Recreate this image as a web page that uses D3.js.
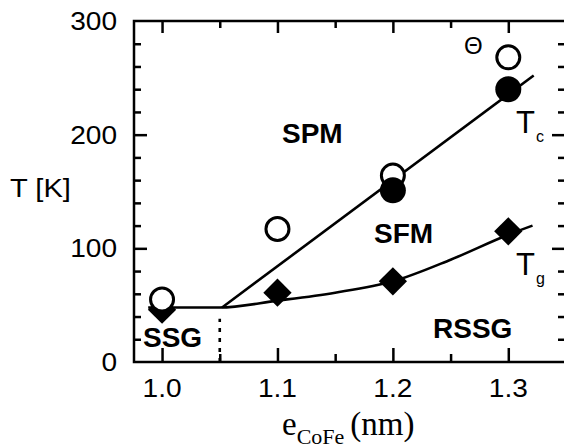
<!DOCTYPE html>
<html>
<head>
<meta charset="utf-8">
<script src="https://cdn.jsdelivr.net/npm/d3@7"></script>
<style>
  html, body { margin: 0; padding: 0; background: #fff; }
  svg { display: block; }
  text { font-family: "Liberation Sans", Arial, Helvetica, sans-serif; fill: #000; }
</style>
</head>
<body>
<svg id="chart" width="564" height="448"></svg>
<script>
// Thickness of the CoFe layer (nm)
const thickness = [1.0, 1.1, 1.2, 1.3];
// Curie-Weiss temperature Θ (open circles)
const thetaK = [55, 117, 164, 268];
// Ordering temperature Tc (filled circles), measured at 1.2 and 1.3 nm
const tcThickness = [1.2, 1.3];
const tcK = [151, 240];
// Glass temperature Tg (diamonds)
const tgK = [46, 61, 71, 115];

// Guide lines separating the phases
const tcLineX = [1.052, 1.322];
const tcLineY = [48, 252];
const tgLineX = [0.988, 1.05, 1.1, 1.15, 1.2, 1.25, 1.3, 1.321];
const tgLineY = [48, 48, 54, 61, 71, 90, 112, 120];
const boundaryX = 1.05;
const boundaryY = [0, 38];

// Axis ticks
const xMajor = [1.0, 1.1, 1.2, 1.3];
const xMinor = [1.05, 1.15, 1.25];
const yMajor = [0, 100, 200, 300];
const yMinor = [20, 40, 60, 80, 120, 140, 160, 180, 220, 240, 260, 280];

const svg = d3.select("#chart");
const plotL = 134, plotR = 566, plotT = 21, plotB = 362;

const x = d3.scaleLinear().domain([0.9757, 1.35]).range([plotL, plotR]);
const y = d3.scaleLinear().domain([0, 300]).range([plotB, plotT]);

const ink = "#000";

// Frame
svg.append("rect")
  .attr("x", plotL).attr("y", plotT)
  .attr("width", plotR - plotL).attr("height", plotB - plotT)
  .attr("fill", "none").attr("stroke", ink).attr("stroke-width", 2.5);

// Inward ticks on all four sides
function ticks(axisGen, transform, values, size) {
  const g = svg.append("g").attr("transform", transform)
    .call(axisGen.tickValues(values).tickSize(-size).tickFormat(""));
  g.select(".domain").remove();
  g.selectAll(".tick line").attr("stroke", ink).attr("stroke-width", 2.5);
}
ticks(d3.axisBottom(x), `translate(0,${plotB})`, xMajor, 14);
ticks(d3.axisBottom(x), `translate(0,${plotB})`, xMinor, 8);
ticks(d3.axisTop(x), `translate(0,${plotT})`, xMajor, 12);
ticks(d3.axisTop(x), `translate(0,${plotT})`, xMinor, 7);
ticks(d3.axisLeft(y), `translate(${plotL},0)`, yMajor.slice(1, 3), 13);
ticks(d3.axisLeft(y), `translate(${plotL},0)`, yMinor, 7);
ticks(d3.axisRight(y), `translate(${plotR},0)`, yMajor.slice(1, 3), 14);
ticks(d3.axisRight(y), `translate(${plotR},0)`, yMinor, 8);

// Tick labels
svg.append("g").selectAll("text").data(xMajor).join("text")
  .attr("transform", d => `translate(${x(d)},397) scale(1.08,1)`)
  .attr("text-anchor", "middle")
  .attr("font-size", 26)
  .text(d => d.toFixed(1));

svg.append("g").selectAll("text").data(yMajor).join("text")
  .attr("transform", d => `translate(117,${y(d) + 9}) scale(1.08,1)`)
  .attr("text-anchor", "end")
  .attr("font-size", 26)
  .text(d => d);

// Axis titles
svg.append("text")
  .attr("transform", "translate(10,197) scale(1.12,1)")
  .attr("font-size", 26)
  .text("T [K]");

const xt = svg.append("text")
  .attr("x", 282).attr("y", 435)
  .style("font-family", "'Liberation Serif', 'Times New Roman', serif")
  .attr("font-size", 33);
xt.append("tspan").text("e");
xt.append("tspan").attr("font-size", 22).attr("dy", 9).text("CoFe");
xt.append("tspan").attr("dy", -9).attr("dx", 6).text("(nm)");

// Phase boundaries
const line = d3.line().x(d => x(d[0])).y(d => y(d[1]));
const curve = d3.line().x(d => x(d[0])).y(d => y(d[1])).curve(d3.curveMonotoneX);

svg.append("path")
  .attr("d", line(d3.zip(tcLineX, tcLineY)))
  .attr("fill", "none").attr("stroke", ink).attr("stroke-width", 2.6);

svg.append("path")
  .attr("d", curve(d3.zip(tgLineX, tgLineY)))
  .attr("fill", "none").attr("stroke", ink).attr("stroke-width", 2.6);

svg.append("line")
  .attr("x1", x(boundaryX)).attr("x2", x(boundaryX))
  .attr("y1", y(boundaryY[0])).attr("y2", y(boundaryY[1]))
  .attr("stroke", ink).attr("stroke-width", 2.6)
  .attr("stroke-dasharray", "4,6");

// Tg diamonds
const diamond = d3.symbol().type(d3.symbolSquare).size(400);
svg.append("g").selectAll("path").data(d3.zip(thickness, tgK)).join("path")
  .attr("d", diamond)
  .attr("transform", d => `translate(${x(d[0])},${y(d[1])}) rotate(45)`)
  .attr("fill", ink);

// Θ open circles
svg.append("g").selectAll("circle").data(d3.zip(thickness, thetaK)).join("circle")
  .attr("cx", d => x(d[0])).attr("cy", d => y(d[1])).attr("r", 11.5)
  .attr("fill", "#fff").attr("stroke", ink).attr("stroke-width", 3);

// Tc filled circles
svg.append("g").selectAll("circle").data(d3.zip(tcThickness, tcK)).join("circle")
  .attr("cx", d => x(d[0])).attr("cy", d => y(d[1])).attr("r", 13)
  .attr("fill", ink);

// Phase labels
const phases = [
  { t: "SPM", x: 282, y: 143 },
  { t: "SFM", x: 374, y: 243 },
  { t: "SSG", x: 143, y: 347 },
  { t: "RSSG", x: 433, y: 338 }
];
svg.append("g").selectAll("text").data(phases).join("text")
  .attr("x", d => d.x).attr("y", d => d.y)
  .attr("font-size", 28).attr("font-weight", "bold")
  .text(d => d.t);

// Series labels
svg.append("text").attr("x", 464).attr("y", 54).attr("font-size", 24).text("Θ");

const tcLab = svg.append("text").attr("x", 516).attr("y", 133).attr("font-size", 31);
tcLab.append("tspan").text("T");
tcLab.append("tspan").attr("font-size", 16).attr("dy", 9).attr("dx", 1).text("c");

const tgLab = svg.append("text").attr("x", 516).attr("y", 275).attr("font-size", 31);
tgLab.append("tspan").text("T");
tgLab.append("tspan").attr("font-size", 16).attr("dy", 9).attr("dx", 1).text("g");
</script>
</body>
</html>
